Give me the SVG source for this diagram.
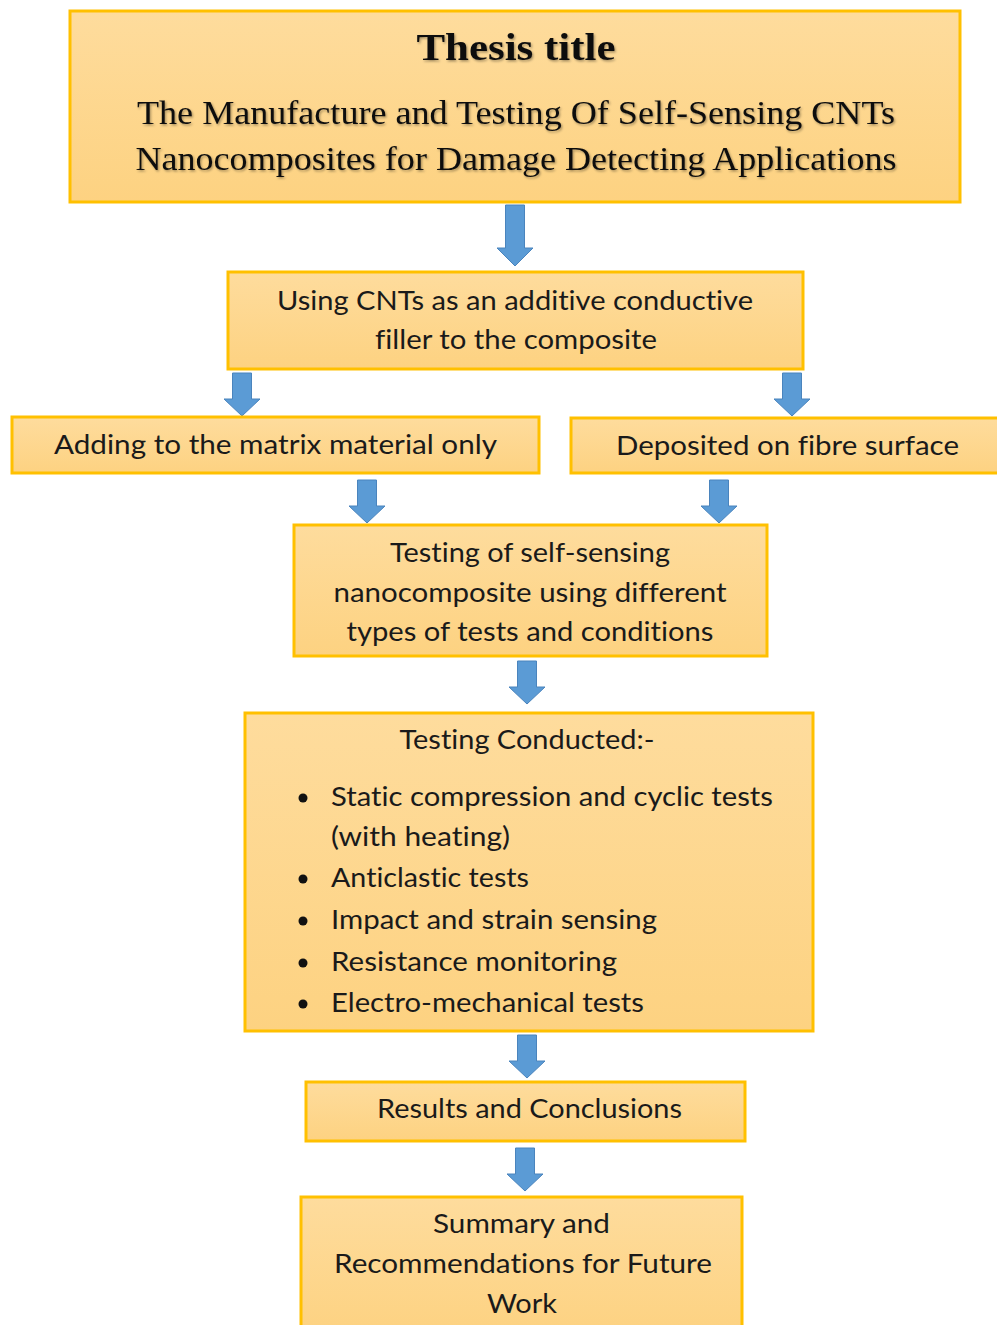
<svg xmlns="http://www.w3.org/2000/svg" width="997" height="1325" viewBox="0 0 997 1325">
<defs>
<linearGradient id="gold" x1="0" y1="0" x2="0" y2="1">
<stop offset="0" stop-color="#FEDC9D"/>
<stop offset="1" stop-color="#FDD281"/>
</linearGradient>
<filter id="shadow" x="-5%" y="-20%" width="110%" height="140%">
<feDropShadow dx="1.2" dy="1.5" stdDeviation="1" flood-color="#000" flood-opacity="0.35"/>
</filter>
<polygon id="arrow" points="-9.5,0 9.5,0 9.5,26 18,26 0,43 -18,26 -9.5,26"/>
<polygon id="arrow-long" points="-9.5,0 9.5,0 9.5,43 18,43 0,61 -18,43 -9.5,43"/>
</defs>
<style>
.box{fill:url(#gold);stroke:#FFC000;stroke-width:3}
.t{font-family:Lato,"Open Sans","Liberation Sans",sans-serif;font-size:26.5px;fill:#1a1a1a;text-anchor:middle;font-variant-ligatures:none}
.l{font-family:Lato,"Open Sans","Liberation Sans",sans-serif;font-size:26.5px;fill:#1a1a1a;font-variant-ligatures:none}
.serif{font-family:"Liberation Serif","Times New Roman",serif;fill:#111;text-anchor:middle;filter:url(#shadow)}
.arr{fill:#5B9BD5;stroke:#4A84BD;stroke-width:1}
.dot{fill:#111}
</style>
<rect width="997" height="1325" fill="#fff"/>

<g id="connectors">
<use href="#arrow-long" class="arr" transform="translate(515,205)"/>
<use href="#arrow" class="arr" transform="translate(242,373)"/>
<use href="#arrow" class="arr" transform="translate(792,373)"/>
<use href="#arrow" class="arr" transform="translate(367,480)"/>
<use href="#arrow" class="arr" transform="translate(719,480)"/>
<use href="#arrow" class="arr" transform="translate(527,661)"/>
<use href="#arrow" class="arr" transform="translate(527,1035)"/>
<use href="#arrow" class="arr" transform="translate(525,1148)"/>
</g>

<g id="thesis-title">
<rect class="box" x="70" y="11" width="890" height="191"/>
<text class="serif" x="516" y="60" font-size="37" font-weight="bold" textLength="199" lengthAdjust="spacingAndGlyphs">Thesis title</text>
<text class="serif" x="516" y="124" font-size="34" textLength="758" lengthAdjust="spacingAndGlyphs">The Manufacture and Testing Of Self-Sensing CNTs</text>
<text class="serif" x="516" y="170" font-size="34" textLength="761" lengthAdjust="spacingAndGlyphs">Nanocomposites for Damage Detecting Applications</text>
</g>

<g id="using-cnts">
<rect class="box" x="228" y="272" width="575" height="97"/>
<text class="t" x="515" y="310" textLength="476" lengthAdjust="spacingAndGlyphs">Using CNTs as an additive conductive</text>
<text class="t" x="516" y="349" textLength="282" lengthAdjust="spacingAndGlyphs">filler to the composite</text>
</g>

<g id="matrix-only">
<rect class="box" x="12" y="417" width="527" height="56"/>
<text class="t" x="275.5" y="454" textLength="443" lengthAdjust="spacingAndGlyphs">Adding to the matrix material only</text>
</g>

<g id="fibre-surface">
<rect class="box" x="571" y="418" width="430" height="55"/>
<text class="t" x="787.5" y="455" textLength="343" lengthAdjust="spacingAndGlyphs">Deposited on fibre surface</text>
</g>

<g id="testing-self-sensing">
<rect class="box" x="294" y="525" width="473" height="131"/>
<text class="t" x="530" y="562" textLength="280" lengthAdjust="spacingAndGlyphs">Testing of self-sensing</text>
<text class="t" x="530" y="602" textLength="393" lengthAdjust="spacingAndGlyphs">nanocomposite using different</text>
<text class="t" x="530" y="641" textLength="367" lengthAdjust="spacingAndGlyphs">types of tests and conditions</text>
</g>

<g id="testing-conducted">
<rect class="box" x="245" y="713" width="568" height="318"/>
<text class="t" x="527" y="749" textLength="255" lengthAdjust="spacingAndGlyphs">Testing Conducted:-</text>
<circle class="dot" cx="303" cy="798" r="4.5"/>
<text class="l" x="331" y="806" textLength="442" lengthAdjust="spacingAndGlyphs">Static compression and cyclic tests</text>
<text class="l" x="331" y="846" textLength="179" lengthAdjust="spacingAndGlyphs">(with heating)</text>
<circle class="dot" cx="303" cy="879" r="4.5"/>
<text class="l" x="331" y="887" textLength="198" lengthAdjust="spacingAndGlyphs">Anticlastic tests</text>
<circle class="dot" cx="303" cy="921" r="4.5"/>
<text class="l" x="331" y="929" textLength="326" lengthAdjust="spacingAndGlyphs">Impact and strain sensing</text>
<circle class="dot" cx="303" cy="963" r="4.5"/>
<text class="l" x="331" y="971" textLength="286" lengthAdjust="spacingAndGlyphs">Resistance monitoring</text>
<circle class="dot" cx="303" cy="1004" r="4.5"/>
<text class="l" x="331" y="1012" textLength="313" lengthAdjust="spacingAndGlyphs">Electro-mechanical tests</text>
</g>

<g id="results">
<rect class="box" x="306" y="1082" width="439" height="59"/>
<text class="t" x="529.5" y="1118" textLength="305" lengthAdjust="spacingAndGlyphs">Results and Conclusions</text>
</g>

<g id="summary">
<rect class="box" x="301" y="1197" width="441" height="140"/>
<text class="t" x="521.5" y="1233" textLength="177" lengthAdjust="spacingAndGlyphs">Summary and</text>
<text class="t" x="523" y="1273" textLength="378" lengthAdjust="spacingAndGlyphs">Recommendations for Future</text>
<text class="t" x="522" y="1313" textLength="70" lengthAdjust="spacingAndGlyphs">Work</text>
</g>
</svg>
